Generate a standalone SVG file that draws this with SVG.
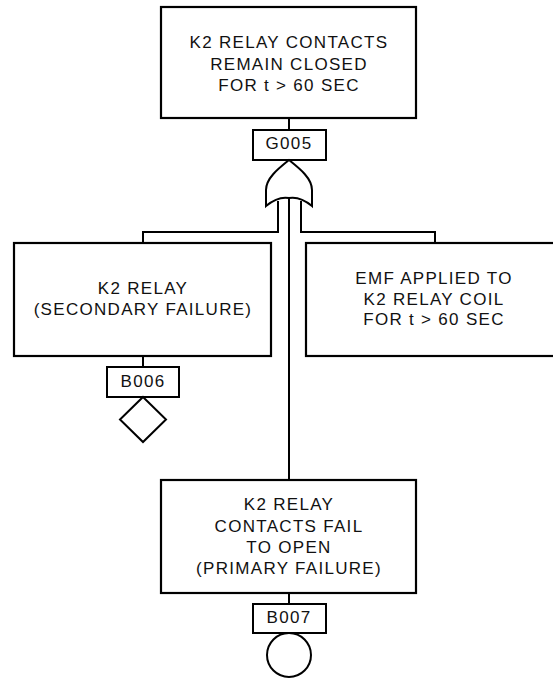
<svg xmlns="http://www.w3.org/2000/svg" width="553" height="678" viewBox="0 0 553 678">
<style>
.box{fill:#fff;stroke:#000;stroke-width:2.2}
.lbl{fill:#fff;stroke:#000;stroke-width:2}
.ln{fill:none;stroke:#000;stroke-width:2}
text{font-family:"Liberation Sans",Arial,sans-serif;font-size:17px;letter-spacing:1.3px;fill:#111;text-anchor:middle}
</style>
<rect width="553" height="678" fill="#fff"/>
<g id="connectors">
<path class="ln" d="M289 118V130"/>
<path class="ln" d="M289 199V480"/>
<path class="ln" d="M278 201V232H143V243"/>
<path class="ln" d="M301 201V232H435V243"/>
<path class="ln" d="M143 356V367"/>
<path class="ln" d="M289 593V604"/>
</g>
<g id="G005">
<rect class="box" x="161" y="7" width="255" height="111"/>
<text x="289" y="48">K2 RELAY CONTACTS</text>
<text x="289" y="70">REMAIN CLOSED</text>
<text x="289" y="91">FOR t &gt; 60 SEC</text>
<rect class="lbl" x="253" y="130" width="73" height="30"/>
<text x="289" y="149">G005</text>
<path class="ln" d="M289 160C279 168 266 178 266 190V206Q278 196 289 198Q300 196 312 206V190C312 178 299 168 289 160Z" fill="#fff"/>
</g>
<g id="B006">
<rect class="box" x="14" y="243" width="257" height="113"/>
<text x="143" y="294">K2 RELAY</text>
<text x="143" y="315">(SECONDARY FAILURE)</text>
<rect class="lbl" x="107" y="367" width="72" height="30"/>
<text x="143" y="387">B006</text>
<path class="ln" d="M143 397L166 419.5L143 442L120 419.5Z"/>
</g>
<g id="E_EMF">
<rect class="box" x="306" y="243" width="256" height="113"/>
<text x="434" y="284">EMF APPLIED TO</text>
<text x="434" y="304.5">K2 RELAY COIL</text>
<text x="434" y="325">FOR t &gt; 60 SEC</text>
</g>
<g id="B007">
<rect class="box" x="161" y="480" width="255" height="113"/>
<text x="289" y="510">K2 RELAY</text>
<text x="289" y="531.5">CONTACTS FAIL</text>
<text x="289" y="552.5">TO OPEN</text>
<text x="289" y="574">(PRIMARY FAILURE)</text>
<rect class="lbl" x="253" y="604" width="73" height="29"/>
<text x="289" y="623">B007</text>
<circle class="ln" cx="289" cy="655" r="22"/>
</g>
</svg>
